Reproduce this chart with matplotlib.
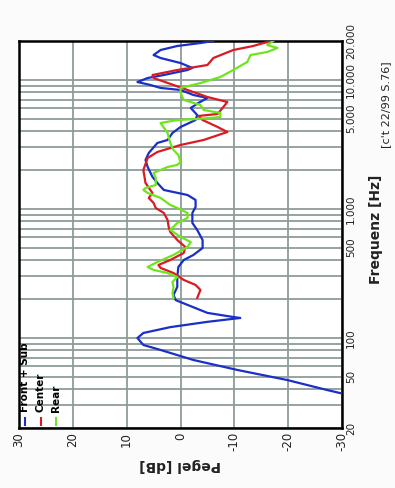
import numpy as np
import matplotlib
matplotlib.use("Agg")
from matplotlib import pyplot as plt
from matplotlib.ticker import FixedLocator, NullFormatter

# Frequenzgang, 90 Grad gedreht (Frequenz vertikal, Pegel horizontal)
front_f = [37, 39.4, 47.1, 56.3, 67.3, 80.5, 88, 99.7, 109, 121, 133, 142.5, 145, 156, 180, 196,
           215, 248, 296, 354, 401, 439, 497, 573, 686, 777, 929, 1033, 1171, 1280, 1400, 1587,
           1765, 2111, 2391, 2709, 3239, 3418, 3871, 4308, 4882, 5336, 6049, 6610, 7229, 7628,
           8343, 8650, 9120, 9616, 10330, 10900, 11920, 12360, 13500, 14760, 15570, 17030,
           18290, 19290, 20000]
front_db = [-30, -27.2, -19.8, -10.6, -2.4, 3.7, 6.9, 8.0, 6.9, 1.9, -5.0, -11.1, -9.8, -5.0, -1.3,
            0.9, 1.3, 0.6, 0.6, 0.4, -0.6, -2.4, -4.1, -4.1, -3.1, -2.2, -2.2, -2.8, -2.8, -1.3,
            3.1, 4.3, 5.2, 6.1, 6.5, 5.9, 4.3, 2.4, 1.5, 0, -2.8, -3.1, -1.9, -3.3, -5.0, -2.4,
            0, 3.7, 5.6, 8.0, 6.1, 3.1, -1.3, -2.2, 0, 3.7, 5.0, 3.7, 0.6, -3.7, -6.1]

center_f = [204, 235, 257, 281, 318, 348, 367, 401, 455, 506, 573, 661, 723, 819, 929, 1015,
            1110, 1214, 1327, 1400, 1587, 2000, 2478, 2758, 3125, 3418, 3941, 4308, 4882, 5245,
            5435, 6049, 6730, 7360, 8343, 9120, 10330, 10900, 11920, 13030, 14760, 17030,
            18290, 19290, 20000]
center_db = [-3.1, -3.7, -2.8, -0.6, 1.3, 3.7, 4.1, 1.9, -0.6, -0.9, 0.6, 1.9, 2.2, 2.4, 3.1, 4.6,
             5.0, 5.9, 5.2, 5.6, 6.5, 6.9, 6.1, 4.3, 0, -4.3, -8.7, -6.9, -4.1, -3.3,
             -6.9, -7.8, -8.7, -5.0, -1.3, 1.3, 5.0, 5.2, 0.6, -5.0, -6.1, -9.8,
             -13.5, -15.4, -17.2]

rear_f = [204, 223, 248, 271, 296, 318, 336, 354, 387, 439, 506, 553, 605, 686, 777, 849, 929,
          1015, 1071, 1214, 1327, 1400, 1450, 1530, 1735, 1897, 2111, 2188, 2307, 2614, 2858,
          3239, 3871, 4627, 4882, 4968, 5150, 5530, 5840, 6380, 6980, 7910, 8650, 9440, 10520,
          11920, 13750, 15570, 16430, 17660, 18620, 20000]
rear_db = [1.3, 1.5, 1.3, 1.5, 0.6, 2.4, 5.0, 6.1, 4.3, 1.3, -1.3, -1.9, 0, 1.9, 0.6, -1.3, -1.3,
           0.6, 1.9, 3.7, 6.1, 6.9, 6.5, 4.6, 4.6, 5.0, 2.4, 0.6, 0, 0.4, 1.3,
           1.9, 2.4, 3.7, 0.6, -3.1, -7.4, -7.4, -4.3, -3.7, -0.6, 0, 0, -3.7, -7.4,
           -9.8, -12.4, -13.0, -16.1, -18.0, -16.1, -17.2]

db_ticks = [30, 20, 10, 0, -10, -20, -30]
f_ticks = [20, 50, 100, 500, 1000, 5000, 10000, 20000]
f_labels = ["20", "50", "100", "500", "1.000", "5.000", "10.000", "20.000"]

names = ["Front + Sub", "Center", "Rear"]
colors = ["#1a2fc8", "#d81c24", "#6ee51c"]

grid_col = "#8e9c98"
bg = "#fafbfa"

fig = plt.figure(figsize=(3.95, 4.88), dpi=100, facecolor=bg)
ax = fig.add_axes([0.048, 0.123, 0.818, 0.793], facecolor="white")

for f, d, c in zip([front_f, center_f, rear_f], [front_db, center_db, rear_db], colors):
    ax.plot(d, f, color=c, lw=1.6, zorder=3)

ax.set_yscale("log")
ax.set_ylim(20, 20000)
ax.set_xlim(30, -30)

ax.set_xticks(db_ticks)
ax.set_xticklabels([str(t) for t in db_ticks], rotation=90, fontsize=8.5, color="#222222")
ax.yaxis.tick_right()
ax.yaxis.set_major_locator(FixedLocator(f_ticks))
ax.set_yticklabels(f_labels, rotation=90, fontsize=7.5, color="#222222", va="center")
minor = [m * 10 ** e for e in range(1, 5) for m in range(1, 10) if 20 <= m * 10 ** e <= 20000]
ax.yaxis.set_minor_locator(FixedLocator(minor))
ax.yaxis.set_minor_formatter(NullFormatter())
ax.tick_params(axis="both", which="both", length=0, pad=3)

ax.grid(True, which="both", axis="y", color=grid_col, lw=1.3)
ax.grid(True, which="major", axis="x", color=grid_col, lw=1.3)
ax.set_axisbelow(True)
for s in ax.spines.values():
    s.set_linewidth(1.8)
    s.set_color("black")

# Legende (gedreht)
for i, (n, c) in enumerate(zip(names, colors)):
    x = 0.02 + i * 0.048
    ax.plot([x, x], [0.008, 0.025], color=c, lw=1.5, transform=ax.transAxes, zorder=4)
    ax.text(x, 0.04, n, rotation=90, ha="center", va="bottom", fontsize=7.5,
            fontweight="bold", transform=ax.transAxes, zorder=4)

fig.text(0.455, 0.047, "Pegel [dB]", rotation=180, ha="center", va="center",
         fontsize=10, fontweight="bold", color="#222222")
fig.text(0.952, 0.53, "Frequenz [Hz]", rotation=90, ha="center", va="center",
         fontsize=10, fontweight="bold", color="#222222")
fig.text(0.978, 0.785, "[c't 22/99 S.76]", rotation=90, ha="center", va="center",
         fontsize=8, color="#222222")

fig.savefig("out.png", dpi=100, facecolor=bg)
